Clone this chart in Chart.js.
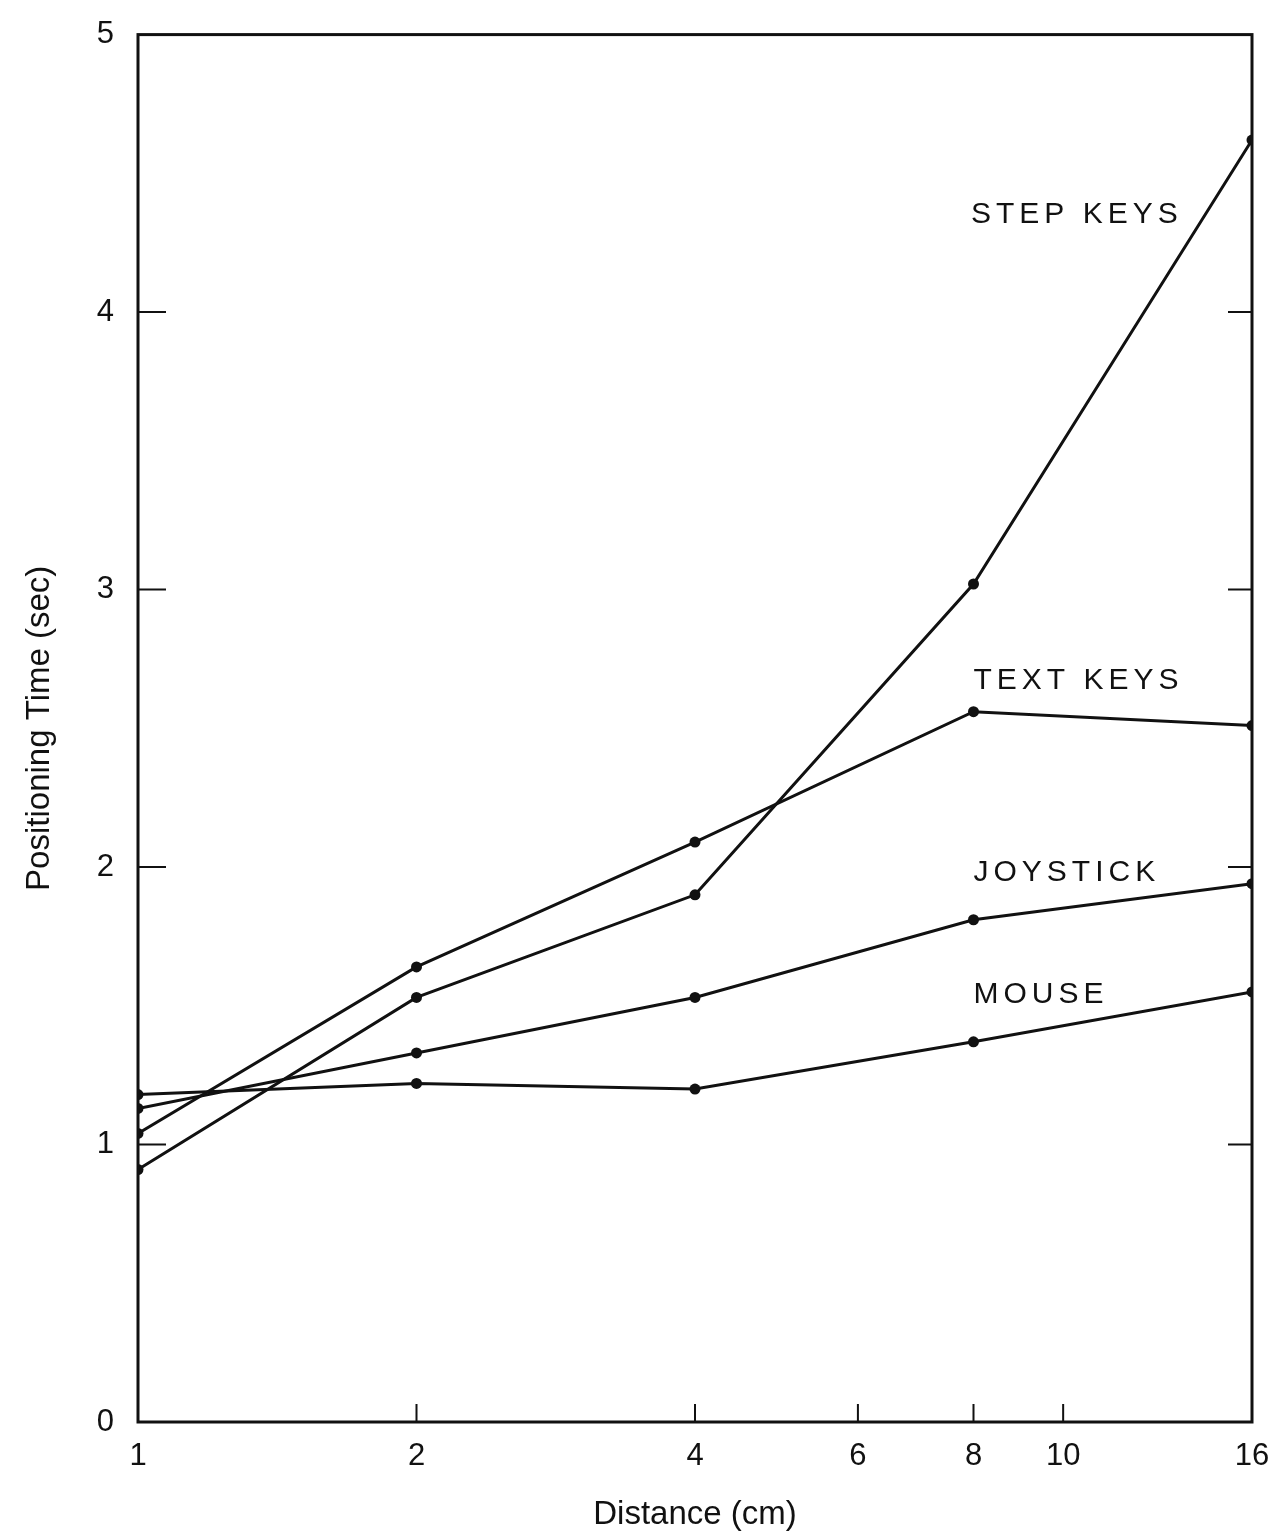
<!DOCTYPE html>
<html>
<head>
<meta charset="utf-8">
<script src="https://cdn.jsdelivr.net/npm/chart.js@4.4.1/dist/chart.umd.min.js"></script>
<style>
  html, body { margin: 0; padding: 0; background: #fff; }
  canvas { display: block; }
</style>
</head>
<body>
<canvas id="chart" width="1288" height="1535"></canvas>
<script>
// distance in cm (log2 axis)
const distances = [1, 2, 4, 8, 16];
const xTicks = [1, 2, 4, 6, 8, 10, 16];
const yTicks = [0, 1, 2, 3, 4, 5];

// positioning time (sec)
const stepKeys = [0.91, 1.53, 1.90, 3.02, 4.62];
const textKeys = [1.04, 1.64, 2.09, 2.56, 2.51];
const joystick = [1.13, 1.33, 1.53, 1.81, 1.94];
const mouse = [1.18, 1.22, 1.20, 1.37, 1.55];

const seriesNames = ["STEP KEYS", "TEXT KEYS", "JOYSTICK", "MOUSE"];
// where each curve name sits, in data units (x = distance, y = seconds)
const labelX = [7.95, 8.0, 8.0, 8.0];
const labelY = [4.35, 2.67, 1.98, 1.54];

const seriesValues = [stepKeys, textKeys, joystick, mouse];

const fontFamily = "'Liberation Sans', Arial, sans-serif";

const frame = {
    id: "frame",
    afterDatasetsDraw(chart) {
        const ctx = chart.ctx;
        const area = chart.chartArea;
        const x = chart.scales.x;
        const y = chart.scales.y;
        ctx.save();
        ctx.strokeStyle = "#111";
        ctx.lineWidth = 3;
        ctx.strokeRect(area.left, area.top, area.right - area.left, area.bottom - area.top);

        // inward ticks
        ctx.lineWidth = 2;
        ctx.beginPath();
        yTicks.slice(1, 5).forEach((v) => {
            const py = y.getPixelForValue(v);
            ctx.moveTo(area.left, py);
            ctx.lineTo(area.left + 28, py);
            ctx.moveTo(area.right, py);
            ctx.lineTo(area.right - 24, py);
        });
        xTicks.slice(1, 6).forEach((v) => {
            const px = x.getPixelForValue(v);
            ctx.moveTo(px, area.bottom);
            ctx.lineTo(px, area.bottom - 18);
        });
        ctx.stroke();

        // curve names
        ctx.fillStyle = "#111";
        ctx.font = "30px " + fontFamily;
        ctx.letterSpacing = "5px";
        ctx.textAlign = "left";
        ctx.textBaseline = "middle";
        seriesNames.forEach((name, i) => {
            ctx.fillText(name, x.getPixelForValue(labelX[i]), y.getPixelForValue(labelY[i]));
        });
        ctx.restore();
    },
};

new Chart(document.getElementById("chart"), {
    type: "line",
    data: {
        datasets: seriesNames.map((name, i) => ({
            label: name,
            data: distances.map((d, j) => ({ x: d, y: seriesValues[i][j] })),
            borderColor: "#111",
            backgroundColor: "#111",
            borderWidth: 3,
            pointRadius: 5.5,
            pointBorderWidth: 0,
            tension: 0,
        })),
    },
    options: {
        responsive: false,
        animation: false,
        devicePixelRatio: 1,
        layout: { padding: { left: 0, right: 36, top: 24, bottom: 0 } },
        plugins: {
            legend: { display: false },
            tooltip: { enabled: false },
        },
        scales: {
            x: {
                type: "logarithmic",
                min: 1,
                max: 16,
                afterBuildTicks: (scale) => {
                    scale.ticks = xTicks.map((v) => ({ value: v }));
                },
                afterFit: (scale) => {
                    scale.height = 113;
                },
                grid: { display: false },
                border: { display: false },
                ticks: {
                    autoSkip: false,
                    maxRotation: 0,
                    padding: 8,
                    color: "#111",
                    font: { family: fontFamily, size: 31 },
                    callback: (v) => String(v),
                },
                title: {
                    display: true,
                    text: "Distance (cm)",
                    color: "#111",
                    padding: { top: 8, bottom: 0 },
                    font: { family: fontFamily, size: 33 },
                },
            },
            y: {
                min: 0,
                max: 5,
                afterBuildTicks: (scale) => {
                    scale.ticks = yTicks.map((v) => ({ value: v }));
                },
                afterFit: (scale) => {
                    scale.width = 138;
                },
                grid: { display: false },
                border: { display: false },
                ticks: {
                    padding: 16,
                    color: "#111",
                    font: { family: fontFamily, size: 31 },
                },
                title: {
                    display: true,
                    text: "Positioning Time (sec)",
                    color: "#111",
                    padding: { top: 20, bottom: 0 },
                    font: { family: fontFamily, size: 33 },
                },
            },
        },
    },
    plugins: [frame],
});
</script>
</body>
</html>
